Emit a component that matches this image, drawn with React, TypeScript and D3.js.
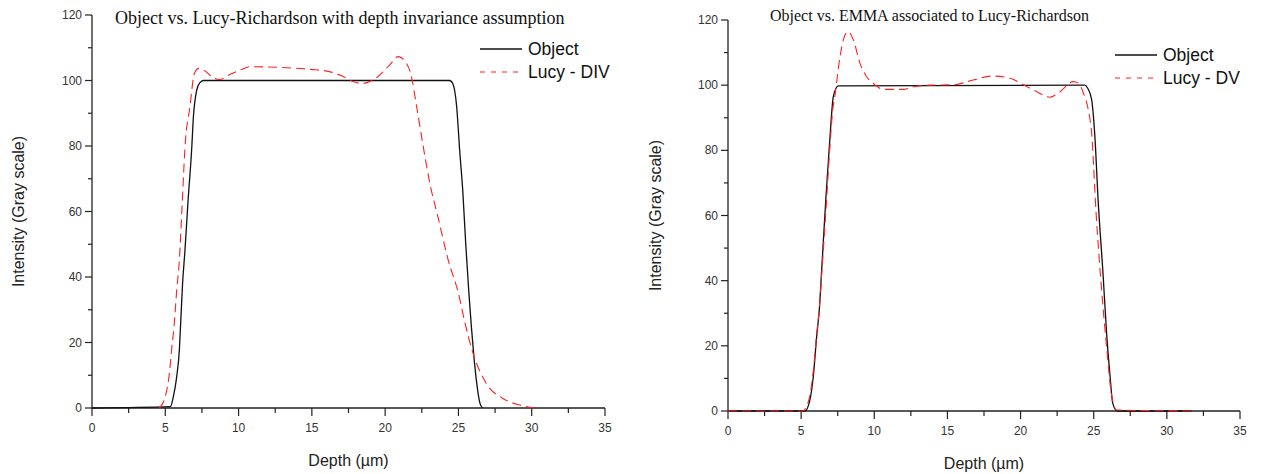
import React from "react";
import * as d3 from "d3";

// ---------- data ----------
const xTickValues = [0, 5, 10, 15, 20, 25, 30, 35];
const xMinorTickValues = [2.5, 7.5, 12.5, 17.5, 22.5, 27.5, 32.5];
const yTickValues = [0, 20, 40, 60, 80, 100, 120];
const yMinorTickValues = [10, 30, 50, 70, 90, 110];

const leftTitle = "Object vs. Lucy-Richardson with depth invariance assumption";
const rightTitle = "Object vs. EMMA associated to Lucy-Richardson";
const xAxisTitle = "Depth (µm)";
const yAxisTitle = "Intensity (Gray scale)";
const objectLabel = "Object";
const leftLucyLabel = "Lucy - DIV";
const rightLucyLabel = "Lucy - DV";

const leftObjectX = [0, 5.35, 5.55, 5.78, 5.96, 6.07, 6.18, 6.34, 6.55, 6.8, 6.92, 7.14, 7.35, 7.6, 24.4, 24.62, 24.88, 25.08, 25.3, 25.5, 25.7, 25.88, 26.05, 26.25, 26.47, 26.65];
const leftObjectY = [0, 0.4, 3.5, 9.6, 17.7, 27.9, 38, 48, 63, 79, 89, 97, 99.3, 100, 100, 99, 92, 79, 66, 50, 36, 25, 16, 7.5, 1.4, 0];

const leftLucyX = [4.6, 5.0, 5.28, 5.43, 5.6, 5.78, 5.96, 6.15, 6.34, 6.68, 6.99, 7.29, 7.78, 8.16, 8.7, 9.4, 10.1, 10.8, 12.8, 14.9, 16.2, 17.0, 17.8, 18.4, 19.2, 20.3, 20.9, 21.45, 21.75, 22.15, 22.6, 23.05, 23.6, 24.3, 25.0, 25.45, 26.0, 26.9, 28.0, 29.2, 30.2];
const leftLucyY = [0, 3.5, 10.6, 17.7, 25, 36, 45.2, 62, 79.3, 92, 102.2, 103.7, 102.7, 101.2, 100.3, 101.8, 103.2, 104.2, 104, 103.4, 102.7, 101.5, 99.7, 99.1, 100.2, 104.7, 107.3, 105.3, 102, 92, 79.8, 68.6, 58.4, 45.2, 35, 25.9, 16.7, 7.5, 3, 0.9, 0];

const rightObjectX = [0, 5.26, 5.6, 5.83, 6.06, 6.24, 6.4, 6.7, 6.97, 7.2, 7.54, 24.4, 24.6, 24.86, 25.08, 25.3, 25.65, 25.88, 26.1, 26.3, 26.6, 31.7];
const rightObjectY = [0, 0, 3.4, 10.5, 22.8, 31, 43, 66, 84, 96.5, 99.8, 100, 99, 95.5, 84.2, 64.8, 41.2, 23.9, 11.6, 2.4, 0, 0];

const rightLucyX = [0, 5.1, 5.5, 5.8, 6.05, 6.25, 6.45, 6.7, 6.95, 7.15, 7.3, 7.66, 8.0, 8.23, 8.57, 9.02, 9.48, 10.05, 10.6, 11.98, 12.67, 13.8, 15.4, 16.77, 18.1, 19.3, 20.2, 21.1, 22.0, 22.7, 23.6, 23.96, 24.3, 24.63, 24.86, 25.15, 25.54, 25.88, 26.2, 26.57, 31.7];
const rightLucyY = [0, 0, 3, 11, 23, 32, 45, 62, 80, 92, 96.5, 108.8, 115.4, 116.4, 113.9, 106.7, 102.6, 100.1, 98.7, 98.7, 99.5, 100, 100.1, 101.6, 102.8, 102.1, 100.1, 98, 96.3, 98, 101.1, 100.6, 97.5, 92.4, 85.2, 61.7, 37.1, 19.7, 5.5, 0.3, 0];

// ---------- styling ----------
const SANS = "'Liberation Sans', Arial, sans-serif";
const SERIF = "'Liberation Serif', 'Times New Roman', serif";
const RED = "#ff2020";
const BLACK = "#111";

type PanelProps = {
  xRange: [number, number];
  yRange: [number, number];
  title: string;
  titleX: number;
  titleY: number;
  titleSize: number;
  yTitleX: number;
  legendX: number;
  legendY: number;
  lucyLabel: string;
  objX: number[];
  objY: number[];
  lucyX: number[];
  lucyY: number[];
};

function Panel(p: PanelProps) {
  const x = d3.scaleLinear().domain([0, 35]).range(p.xRange);
  const y = d3.scaleLinear().domain([0, 120]).range(p.yRange);
  const line = d3
    .line<[number, number]>()
    .x((d) => x(d[0]))
    .y((d) => y(d[1]))
    .curve(d3.curveMonotoneX);
  const objPts = p.objX.map((v, i) => [v, p.objY[i]] as [number, number]);
  const lucyPts = p.lucyX.map((v, i) => [v, p.lucyY[i]] as [number, number]);
  const x0 = p.xRange[0];
  const y0 = p.yRange[0];
  const xMid = (p.xRange[0] + p.xRange[1]) / 2;
  const yMid = (p.yRange[0] + p.yRange[1]) / 2;
  return (
    <g>
      <text x={p.titleX} y={p.titleY} fontFamily={SERIF} fontSize={p.titleSize} fill="#111">
        {p.title}
      </text>
      {/* axes */}
      <line x1={x0} x2={x0} y1={y(120)} y2={y0} stroke="#222" strokeWidth={1.3} />
      <line x1={x0} x2={x(35)} y1={y0} y2={y0} stroke="#222" strokeWidth={1.3} />
      {xTickValues.map((t) => (
        <g key={"xt" + t}>
          <line x1={x(t)} x2={x(t)} y1={y0} y2={y0 + 8} stroke="#222" strokeWidth={1.2} />
          <text x={x(t)} y={y0 + 24} textAnchor="middle" fontFamily={SANS} fontSize={12} fill="#333">
            {t}
          </text>
        </g>
      ))}
      {xMinorTickValues.map((t) => (
        <line key={"xm" + t} x1={x(t)} x2={x(t)} y1={y0} y2={y0 + 5} stroke="#222" strokeWidth={1.2} />
      ))}
      {yTickValues.map((t) => (
        <g key={"yt" + t}>
          <line x1={x0 - 7} x2={x0} y1={y(t)} y2={y(t)} stroke="#222" strokeWidth={1.2} />
          <text x={x0 - 10} y={y(t) + 4} textAnchor="end" fontFamily={SANS} fontSize={12} fill="#333">
            {t}
          </text>
        </g>
      ))}
      {yMinorTickValues.map((t) => (
        <line key={"ym" + t} x1={x0 - 4} x2={x0} y1={y(t)} y2={y(t)} stroke="#222" strokeWidth={1.2} />
      ))}
      <text x={xMid} y={y0 + 58} textAnchor="middle" fontFamily={SANS} fontSize={16} fill="#222">
        {xAxisTitle}
      </text>
      <text
        transform={`translate(${p.yTitleX},${yMid}) rotate(-90)`}
        textAnchor="middle"
        fontFamily={SANS}
        fontSize={16}
        fill="#222"
      >
        {yAxisTitle}
      </text>
      {/* curves */}
      <path d={line(objPts) || ""} fill="none" stroke={BLACK} strokeWidth={1.3} />
      <path d={line(lucyPts) || ""} fill="none" stroke={RED} strokeWidth={1.1} strokeDasharray="9,5" />
      {/* legend */}
      <line x1={p.legendX} x2={p.legendX + 42} y1={p.legendY} y2={p.legendY} stroke={BLACK} strokeWidth={1.3} />
      <text x={p.legendX + 48} y={p.legendY + 6} fontFamily={SANS} fontSize={17.5} fill="#111">
        {objectLabel}
      </text>
      <line
        x1={p.legendX}
        x2={p.legendX + 42}
        y1={p.legendY + 23}
        y2={p.legendY + 23}
        stroke={RED}
        strokeWidth={1.1}
        strokeDasharray="5,6"
      />
      <text x={p.legendX + 48} y={p.legendY + 29} fontFamily={SANS} fontSize={17.5} fill="#111">
        {p.lucyLabel}
      </text>
    </g>
  );
}

export default function App() {
  return (
    <svg
      width={1266}
      height={474}
      style={{ position: "absolute", left: 0, top: 0, background: "#fff" }}
    >
      <rect width={1266} height={474} fill="#fff" />
      <Panel
        xRange={[92, 605]}
        yRange={[408, 15]}
        title={leftTitle}
        titleX={115}
        titleY={24}
        titleSize={18}
        yTitleX={24}
        legendX={480}
        legendY={49}
        lucyLabel={leftLucyLabel}
        objX={leftObjectX}
        objY={leftObjectY}
        lucyX={leftLucyX}
        lucyY={leftLucyY}
      />
      <Panel
        xRange={[728, 1240]}
        yRange={[411, 20]}
        title={rightTitle}
        titleX={770}
        titleY={21}
        titleSize={16}
        yTitleX={661}
        legendX={1115}
        legendY={55}
        lucyLabel={rightLucyLabel}
        objX={rightObjectX}
        objY={rightObjectY}
        lucyX={rightLucyX}
        lucyY={rightLucyY}
      />
    </svg>
  );
}
